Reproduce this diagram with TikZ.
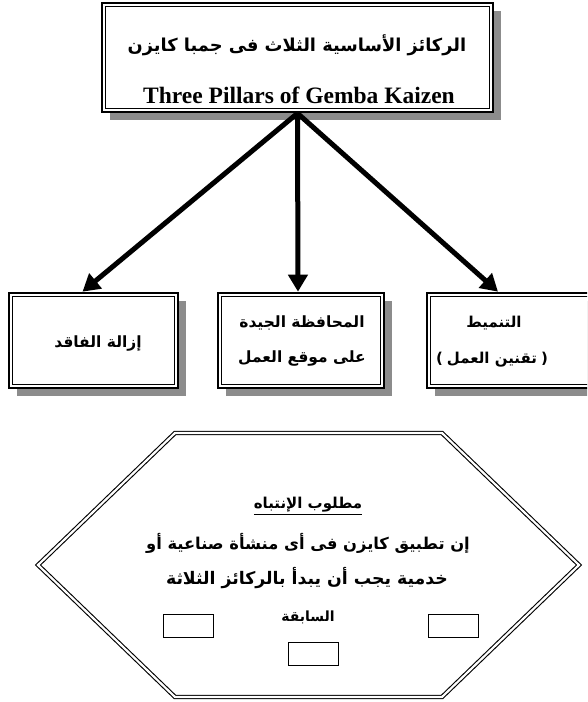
\documentclass[tikz,border=0pt]{standalone}
\usepackage{fontspec}
\setmainfont{Liberation Serif}
\newfontfamily\arabicfont[Script=Arabic]{DejaVu Sans}
\newfontfamily\parenfont{DejaVu Sans}
\TeXXeTstate=1
\usetikzlibrary{arrows.meta,shadows}
\begin{document}
\begin{tikzpicture}[x=1pt,y=-1pt,
  pillar/.style={draw=black, line width=2.6pt, fill=white, inner sep=0pt,
    drop shadow={shadow xshift=8pt, shadow yshift=-8pt, fill=black!45, opacity=1}},
  innerline/.style={draw=black, line width=1pt},
  conn/.style={draw=black, line width=5pt, -{Triangle[length=17pt,width=19pt]}},
  artext/.style={inner sep=0pt, font=\arabicfont\bfseries},
  hexline/.style={draw=black, line width=1.1pt, double=white, double distance=2.2pt, line join=miter},
  smallbox/.style={draw=black, line width=1pt, minimum width=50pt, minimum height=23pt, inner sep=0pt}
]
\clip (0,0) rectangle (587,702);
\fill[white] (0,0) rectangle (587,702);

% top box
\node[pillar, minimum width=391pt, minimum height=109pt] (top) at (297.5,57.5) {};
\draw[innerline] ([xshift=5pt,yshift=-5pt]top.north west) rectangle ([xshift=-5pt,yshift=5pt]top.south east);
\node[artext, font=\arabicfont\bfseries\fontsize{17.8}{20}\selectfont] (topar) at (297,45) {\beginR الركائز الأساسية الثلاث فى جمبا كايزن\endR};
\node[inner sep=0pt, font=\bfseries\fontsize{23.5}{26}\selectfont] (topen) at (299,95) {Three Pillars of Gemba Kaizen};

% lower boxes
\node[pillar, minimum width=169pt, minimum height=95pt] (left) at (93.5,340.5) {};
\draw[innerline] ([xshift=5pt,yshift=-5pt]left.north west) rectangle ([xshift=-5pt,yshift=5pt]left.south east);
\node[pillar, minimum width=166pt, minimum height=95pt] (mid) at (301,340.5) {};
\draw[innerline] ([xshift=5pt,yshift=-5pt]mid.north west) rectangle ([xshift=-5pt,yshift=5pt]mid.south east);
\node[pillar, minimum width=169pt, minimum height=95pt] (right) at (511.5,340.5) {};
\draw[innerline] ([xshift=5pt,yshift=-5pt]right.north west) rectangle ([xshift=-5pt,yshift=5pt]right.south east);

\node[artext, font=\arabicfont\bfseries\fontsize{15.5}{17}\selectfont] (lefttext) at (98,343) {\beginR إزالة الفاقد\endR};
\node[artext, font=\arabicfont\bfseries\fontsize{15.5}{17}\selectfont] (midtext1) at (302,323) {\beginR المحافظة الجيدة\endR};
\node[artext, font=\arabicfont\bfseries\fontsize{15.5}{17}\selectfont] (midtext2) at (302,358) {\beginR على موقع العمل\endR};
\node[artext, font=\arabicfont\bfseries\fontsize{15}{17}\selectfont] (righttext1) at (494,323) {\beginR التنميط\endR};
\node[artext, font=\arabicfont\bfseries\fontsize{15}{17}\selectfont] (righttext2) at (492,360) {{\parenfont\bfseries (}\hspace{4pt}\beginR تقنين العمل\endR\hspace{4pt}{\parenfont\bfseries )}};

% connectors
\draw[conn] (top.south) -- ([xshift=-11pt]left.north);
\draw[conn] (top.south) -- ([xshift=-3pt]mid.north);
\draw[conn] (top.south) -- ([xshift=-13.5pt]right.north);

% hexagon
\coordinate (h1) at (175,433);
\coordinate (h2) at (442,433);
\coordinate (h3) at (579,565);
\coordinate (h4) at (442,697);
\coordinate (h5) at (175,697);
\coordinate (h6) at (38,565);
\draw[hexline] (h1) -- (h2) -- (h3) -- (h4) -- (h5) -- (h6) -- cycle;

\node[artext, font=\arabicfont\bfseries\fontsize{15}{17}\selectfont] (note) at (308,506) {\underline{\beginR مطلوب الإنتباه\endR}};
\node[artext, font=\arabicfont\bfseries\fontsize{16.3}{18}\selectfont] (line1) at (308,543) {\beginR إن تطبيق كايزن فى أى منشأة صناعية أو\endR};
\node[artext, font=\arabicfont\bfseries\fontsize{17.3}{19}\selectfont] (line2) at (307,578) {\beginR خدمية يجب أن يبدأ بالركائز الثلاثة\endR};
\node[artext, font=\arabicfont\bfseries\fontsize{14}{16}\selectfont] (line3) at (308,617) {\beginR السابقة\endR};

\node[smallbox] (sb1) at (188,625.5) {};
\node[smallbox] (sb2) at (453,625.5) {};
\node[smallbox] (sb3) at (313,654) {};
\end{tikzpicture}
\end{document}
